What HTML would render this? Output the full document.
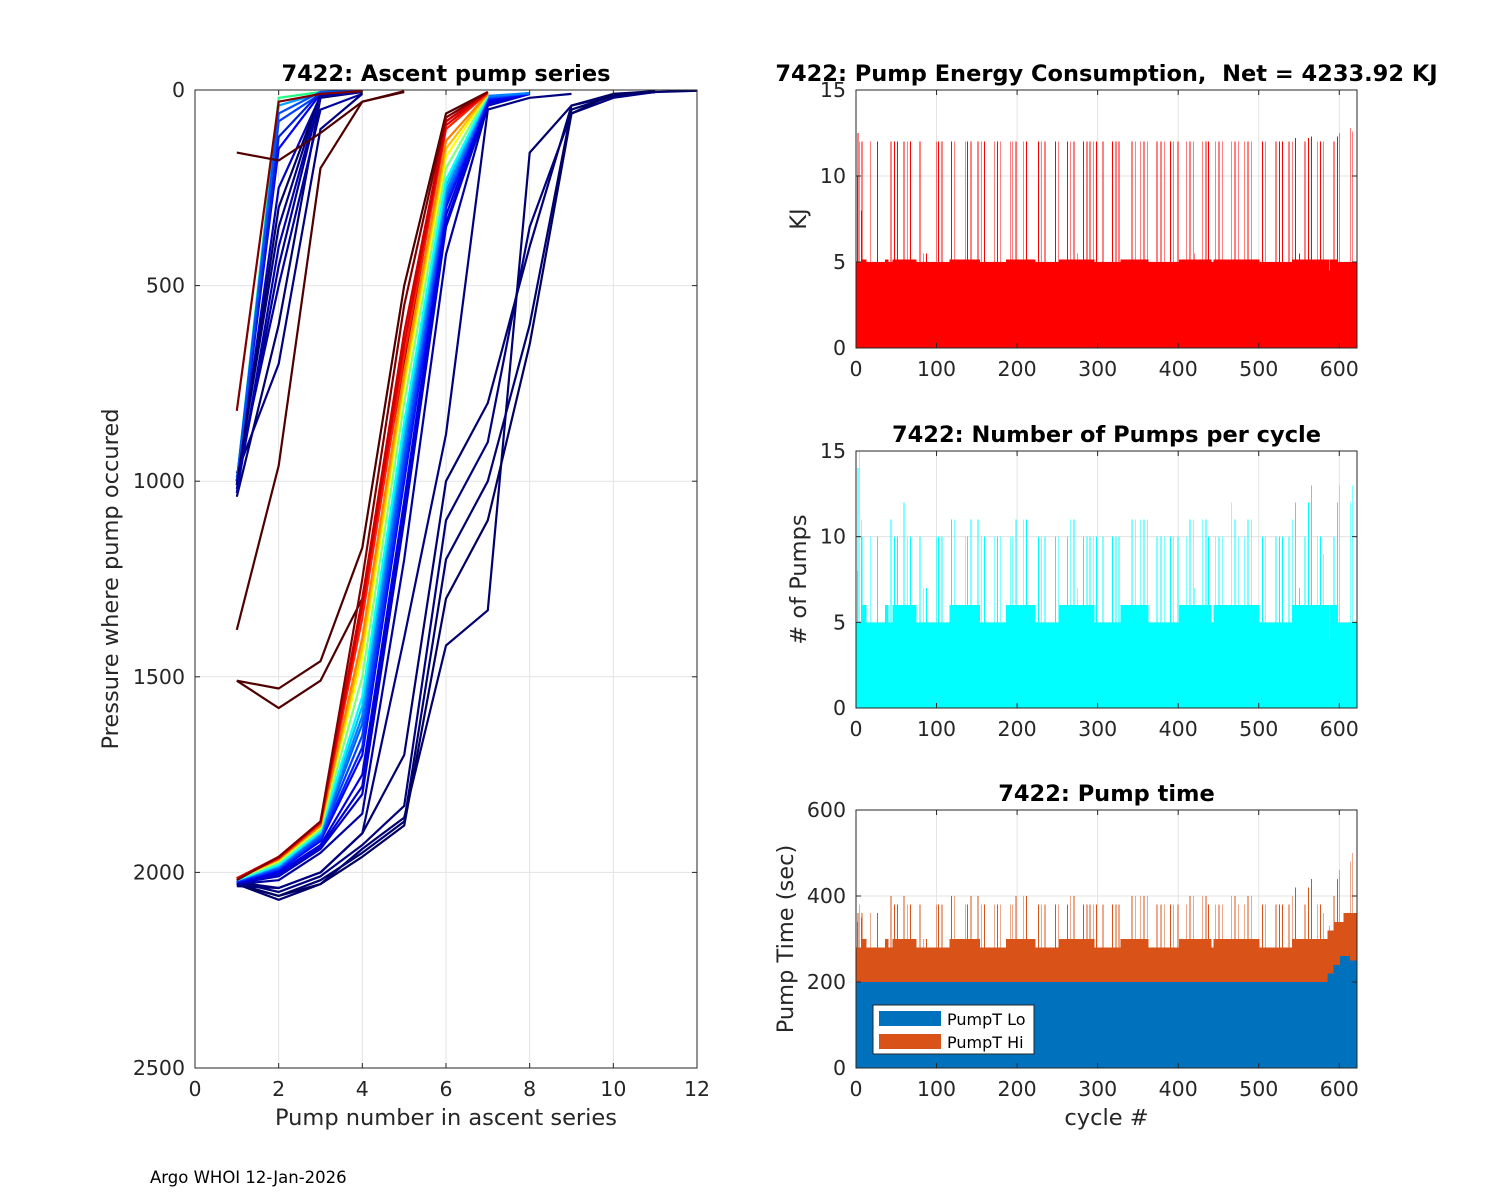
<!DOCTYPE html>
<html><head><meta charset="utf-8">
<style>
html,body{margin:0;padding:0;background:#fff;}
svg{display:block;font-family:"DejaVu Sans","Liberation Sans",sans-serif;}
text{white-space:pre;}
</style></head>
<body>
<svg id="fig" width="1500" height="1200" viewBox="0 0 1500 1200" xmlns="http://www.w3.org/2000/svg">
<rect x="0" y="0" width="1500" height="1200" fill="#fff"/>
<g id="gL"></g>
<g id="gE"></g>
<g id="gP"></g>
<g id="gT"></g>
<text x="150" y="1183" font-size="16.5" fill="#000">Argo WHOI 12-Jan-2026</text>
</svg>
<script>
// ---------- Left chart data: pressure at each pump of ascent series ----------
const profiles = [
 [1000,20,5,2],[1000,40,8,3],[1000,80,10,4],[1000,150,10,4],[1010,250,15,5],
 [1000,350,10,5],[1020,450,15,5],[1040,600,20,5],[990,500,50,10],[980,700,100,10],
 [1000,120,6,2],[1000,60,5,2],[1010,300,12,4],[1030,400,15,4],[820,30,10,3],
 [160,180,110,30,5],[1380,960,200,30,3],[1510,1530,1460,1170,500,60,5],[1510,1580,1510,1300,700,80,5],
 [2030,2070,2030,1940,1860,1420,1330,160,40,15,5],[2030,2060,2020,1950,1870,1200,1000,600,50,15,5],
 [2025,2050,2010,1930,1830,1100,900,350,60,20,5],[2025,2040,2000,1900,1700,1000,800,400,40,10,5,2],
 [2030,2060,2030,1960,1880,1300,1100,650,60,10,3],[2035,2040,2000,1900,1400,880,50,20,10],
 [2030,2020,1950,1850,1200,420,40,10],[2028,2010,1940,1800,1100,350,40,10],[2026,2005,1935,1780,1080,340,35,10],
 [2025,2000,1930,1750,1050,320,30,10],[2025,1995,1920,1700,1000,300,25,10],[2024,1992,1915,1680,980,290,22,9],
 [2022,1990,1910,1650,950,280,20,8],[2021,1987,1905,1620,920,270,18,8],[2020,1985,1900,1600,900,260,15,8],
 [2020,1982,1898,1575,875,245,15],[2020,1980,1895,1550,850,230,15],[2018,1975,1890,1500,800,200,12],
 [2015,1970,1885,1450,760,170,10],[2015,1968,1882,1425,740,150,10],[2015,1965,1880,1400,720,130,10],
 [2015,1965,1875,1350,680,100,8],[2015,1962,1872,1320,650,90,6],[2015,1960,1870,1300,620,80,5],
 [2020,1960,1870,1250,550,70,5]
];
const profileColors = [
 "#20ff80","#00a0ff","#0040ff","#0000ff","#0000c0","#000080","#000090","#000070","#0000a0","#000080",
 "#0020d0","#0050ff","#000060","#0000b0","#800000",
 "#500000","#500000","#500000","#500000",
 "#000070","#000070","#000080","#000070","#000060","#000080",
 "#0000a0","#0000c0","#0000d0","#0000e0","#0000ff","#0020ff",
 "#0040ff","#0060ff","#0080ff","#00c0ff","#00ffff","#80ff80",
 "#ffff00","#ffc000","#ff8000","#ff2000","#e00000","#d00000","#800000"
];
const leftXTicks = [0,2,4,6,8,10,12];
const leftYTicks = [0,500,1000,1500,2000,2500];

// ---------- Right charts data ----------
const nCycles = 622;
const sixPumpRuns = [[8,12],[36,39],[45,74],[116,153],[186,222],[252,295],[328,362],[401,440],[444,500],[541,597]];
const spikeCycles = [1,2,4,6,7,17,26,43,47,51,59,63,67,79,83,87,99,102,106,118,122,135,138,142,151,155,159,171,175,179,191,194,198,207,211,226,230,234,247,251,262,266,270,274,282,286,290,294,298,306,318,322,326,342,346,353,357,361,373,378,382,390,394,399,410,414,418,420,430,434,437,446,450,454,466,470,474,482,486,490,504,508,521,525,529,537,541,545,550,557,561,565,572,576,580,587,593,597,600,613,616];
const spikePumps  = [8,14,15,11,10,10,10,11,10,10,12,10,10,10,7,7,10,10,10,11,11,10,10,11,11,10,10,10,10,10,10,10,11,11,11,10,10,10,10,10,10,11,11,7,10,10,10,10,10,10,10,10,10,11,11,11,11,11,10,10,10,10,10,10,10,11,11,7,11,11,10,10,10,10,12,11,10,10,11,11,10,10,10,10,10,10,11,12,7,10,12,13,10,10,9,4,10,12,13,12,13];
const spikeEnergy = [10,12.5,12,8,12,12,12,12,12,12,12,12,12,12,5.5,5.5,12,12,12,12,12,12,12,12,12,12,12,12,12,12,12,12,12,12,12,12,12,12,12,12,12,12,12,5.5,12,12,12,12,12,12,12,12,12,12,12,12,12,12,12,12,12,12,12,12,12,12,12,5.5,12,12,12,12,12,12,12,12,12,12,12,12,12,12,12,12,12,12,12,12.2,5.5,12,12.2,12.3,12,12,12,4.5,12,12.3,12.5,12.8,12.6];
const spikeTotalTime = [340,360,380,350,360,360,360,400,380,380,400,380,380,380,300,300,380,380,380,400,400,380,380,400,400,380,380,380,380,380,380,380,400,400,400,380,380,380,380,380,380,400,400,300,380,380,380,380,380,380,380,380,380,400,400,400,400,400,380,380,380,380,380,380,380,400,400,300,400,400,380,380,380,380,400,400,380,380,400,400,380,380,380,380,380,380,400,420,300,380,420,440,380,380,360,330,400,440,460,480,500];
const baseEnergy5 = 5.0, baseEnergy6 = 5.15;
const baseTime5 = 280, baseTime6 = 300;
const tailTimeRuns = [[585,592,320],[593,604,340],[605,622,360]];
const loTailRuns = [[585,592,220],[593,600,240],[601,612,260],[613,622,250]];
const baseLo = 200;
const xTicksCycle = [0,100,200,300,400,500,600];
const energyTicks = [0,5,10,15];
const pumpTicks = [0,5,10,15];
const timeTicks = [0,200,400,600];

const pumps=[],energy=[],lo=[],hi=[];
for(let c=0;c<nCycles;c++){
  let six=sixPumpRuns.some(r=>c>=r[0]&&c<=r[1]);
  let p=six?6:5,e=six?baseEnergy6:baseEnergy5,t=six?baseTime6:baseTime5,l=baseLo;
  tailTimeRuns.forEach(r=>{if(c>=r[0]&&c<=r[1])t=r[2];});
  loTailRuns.forEach(r=>{if(c>=r[0]&&c<=r[1])l=r[2];});
  const k=spikeCycles.indexOf(c);
  if(k>=0){p=spikePumps[k];e=spikeEnergy[k];t=spikeTotalTime[k];}
  pumps.push(p);energy.push(e);lo.push(l);hi.push(Math.max(0,t-l));
}

const NS="http://www.w3.org/2000/svg";
function mk(parent,tag,attrs,text){
  const el=document.createElementNS(NS,tag);
  for(const k in attrs)el.setAttribute(k,attrs[k]);
  if(text!==undefined)el.textContent=text;
  parent.appendChild(el);return el;
}
function axesFrame(g,L,R,T,B,xt,yt,xs,ys,prefix){
  xt.forEach(v=>{const x=xs(v);
    const gl=mk(g,'line',{x1:x,x2:x,y1:T,y2:B,stroke:'#e3e3e3','stroke-width':1});
    
    const tl=mk(g,'text',{x:x,y:B+28,'font-size':20.5,'text-anchor':'middle',fill:'#262626'},String(v));
    
  });
  yt.forEach(v=>{const y=ys(v);
    const gl=mk(g,'line',{x1:L,x2:R,y1:y,y2:y,stroke:'#e3e3e3','stroke-width':1});
    
    const tl=mk(g,'text',{x:L-10,y:y+7,'font-size':20.5,'text-anchor':'end',fill:'#262626'},String(v));
    
  });
}
function axesBox(g,L,R,T,B,xt,yt,xs,ys,title,xlabel,ylabel,ylx,prefix){
  xt.forEach(v=>{const x=xs(v);
    mk(g,'line',{x1:x,x2:x,y1:B,y2:B-5,stroke:'#262626'});
    mk(g,'line',{x1:x,x2:x,y1:T,y2:T+5,stroke:'#262626'});
  });
  yt.forEach(v=>{const y=ys(v);
    mk(g,'line',{x1:L,x2:L+5,y1:y,y2:y,stroke:'#262626'});
    mk(g,'line',{x1:R,x2:R-5,y1:y,y2:y,stroke:'#262626'});
  });
  const bx=mk(g,'rect',{x:L,y:T,width:R-L,height:B-T,fill:'none',stroke:'#262626','stroke-width':1});
  
  const tt=mk(g,'text',{x:(L+R)/2,y:T-9,'font-size':22.5,'font-weight':'bold','text-anchor':'middle',fill:'#000'},title);
  
  if(xlabel){const xl=mk(g,'text',{x:(L+R)/2,y:B+57,'font-size':22.5,'text-anchor':'middle',fill:'#262626'},xlabel);
    }
  const yc=(T+B)/2;
  const yl=mk(g,'text',{x:ylx,y:yc,'font-size':22.5,'text-anchor':'middle',fill:'#262626',transform:`rotate(-90 ${ylx} ${yc})`},ylabel);
  
}

// ---------- Left chart ----------
(function(){
  const g=document.getElementById('gL');
  const L=195,R=697,T=90,B=1068;
  const xs=v=>L+(v-0)/12*(R-L), ys=v=>T+v/2500*(B-T);
  axesFrame(g,L,R,T,B,leftXTicks,leftYTicks,xs,ys,'ascent');
  const cp=mk(g,'clipPath',{id:'clipL'});mk(cp,'rect',{x:L,y:T,width:R-L,height:B-T});
  const lg=mk(g,'g',{'clip-path':'url(#clipL)'});
  profiles.forEach((pr,i)=>{
    const pts=pr.map((p,j)=>xs(j+1).toFixed(1)+','+ys(p).toFixed(1)).join(' ');
    const pl=mk(lg,'polyline',{points:pts,fill:'none',stroke:profileColors[i%profileColors.length],'stroke-width':2.2,'stroke-linejoin':'round'});
    
    
  });
  axesBox(g,L,R,T,B,leftXTicks,leftYTicks,xs,ys,'7422: Ascent pump series','Pump number in ascent series','Pressure where pump occured',118,'ascent');
})();

// ---------- Right bar charts ----------
function barChart(id,T,B,ymax,yt,series,title,ylabel,ylx,prefix,xlabel){
  const g=document.getElementById(id);
  const L=856,R=1357;
  const xs=v=>L+v/nCycles*(R-L), ys=v=>B-v/ymax*(B-T);
  axesFrame(g,L,R,T,B,xTicksCycle,yt,xs,ys,prefix);
  const bg=mk(g,'g',{'shape-rendering':'crispEdges'});
  series.forEach(s=>{
    s.vals.forEach((v,c)=>{
      const base=s.base?s.base[c]:0;
      const y0=ys(base),y1=ys(Math.min(ymax,base+v));
      if(y0-y1<=0)return;
      const r=mk(bg,'rect',{x:xs(c+0.1).toFixed(2),y:y1.toFixed(2),width:(1.0*(R-L)/nCycles).toFixed(2),height:(y0-y1).toFixed(2),fill:s.color});
      
      
    });
  });
  axesBox(g,L,R,T,B,xTicksCycle,yt,xs,ys,title,xlabel,ylabel,ylx,prefix);
  return g;
}
barChart('gE',90,348,15,energyTicks,[{vals:energy,color:'#ff0000',name:'energy-bar'}],'7422: Pump Energy Consumption,  Net = 4233.92 KJ','KJ',806,'energy','');
barChart('gP',451,708,15,pumpTicks,[{vals:pumps,color:'#00ffff',name:'pumps-bar'}],'7422: Number of Pumps per cycle','# of Pumps',806,'pumps','');
const gT=barChart('gT',810,1068,600,timeTicks,[{vals:lo,color:'#0072bd',name:'pumpt-lo-bar'},{vals:hi,base:lo,color:'#d95319',name:'pumpt-hi-bar'}],'7422: Pump time','Pump Time (sec)',793,'pumptime','cycle #');
(function(){
  const lg=mk(gT,'g',{});
  
  
  mk(lg,'rect',{x:873,y:1005,width:161,height:49,fill:'#fff',stroke:'#262626','stroke-width':1});
  mk(lg,'rect',{x:879,y:1011,width:62,height:15,fill:'#0072bd'});
  const t1=mk(lg,'text',{x:947,y:1025,'font-size':16,fill:'#000'},'PumpT Lo');
  
  
  mk(lg,'rect',{x:879,y:1034,width:62,height:15,fill:'#d95319'});
  const t2=mk(lg,'text',{x:947,y:1048,'font-size':16,fill:'#000'},'PumpT Hi');
  
  
})();
</script>
</body></html>
